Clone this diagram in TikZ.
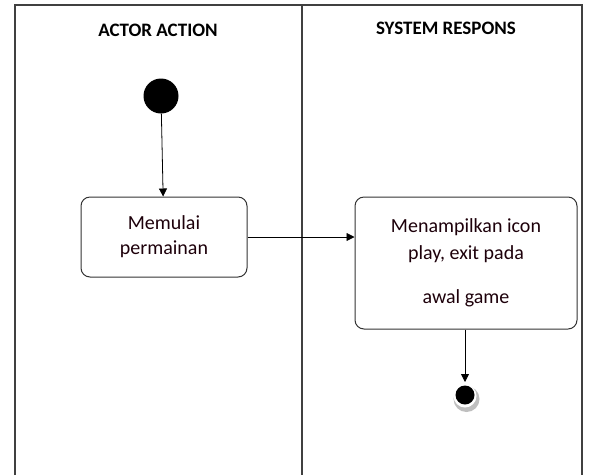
\documentclass[tikz,border=0pt]{standalone}
\usepackage{fontspec}
\setmainfont{Carlito}
\usetikzlibrary{arrows.meta}
\begin{document}
\begin{tikzpicture}[x=1pt,y=-1pt,
  lane/.style={draw=black!75, line width=1.2pt},
  act/.style={draw=black!80, line width=1pt, rounded corners=9pt, align=center, text=black!85!purple},
  flow/.style={draw=black, line width=0.8pt, -{Triangle[length=8pt,width=8pt]}},
  head/.style={font=\bfseries\fontsize{19}{22}\selectfont}
]
\useasboundingbox (0,0) rectangle (594,475);
\draw[lane] (15,475) -- (15,5) -- (582,5) -- (582,475);
\draw[lane] (302,5) -- (302,475);
\node[head] (h1) at (158,30) {ACTOR ACTION};
\node[head] (h2) at (446,28) {SYSTEM RESPONS};
\node[circle, fill=black, minimum size=35pt, inner sep=0pt] (start) at (161,96) {};
\node[act, minimum width=166pt, minimum height=80pt, font=\fontsize{20}{25}\selectfont] (a1) at (164,237) {Memulai\\permainan};
\node[act, minimum width=222pt, minimum height=132pt, font=\fontsize{20}{27}\selectfont] (a2) at (466,263) {Menampilkan icon\\play, exit pada\\[17pt]awal game};
\fill[black!25] (466.5,399) circle (13pt);
\fill[white] (465,396) circle (11.5pt);
\node[circle, fill=black, minimum size=19pt, inner sep=0pt] (end) at (465,395) {};
\draw[flow] (start) -- (a1);
\draw[flow] (a1.east) -- (a2.west |- a1.east);
\draw[flow] (a2.south -| end) -- (465,382);
\end{tikzpicture}
\end{document}
